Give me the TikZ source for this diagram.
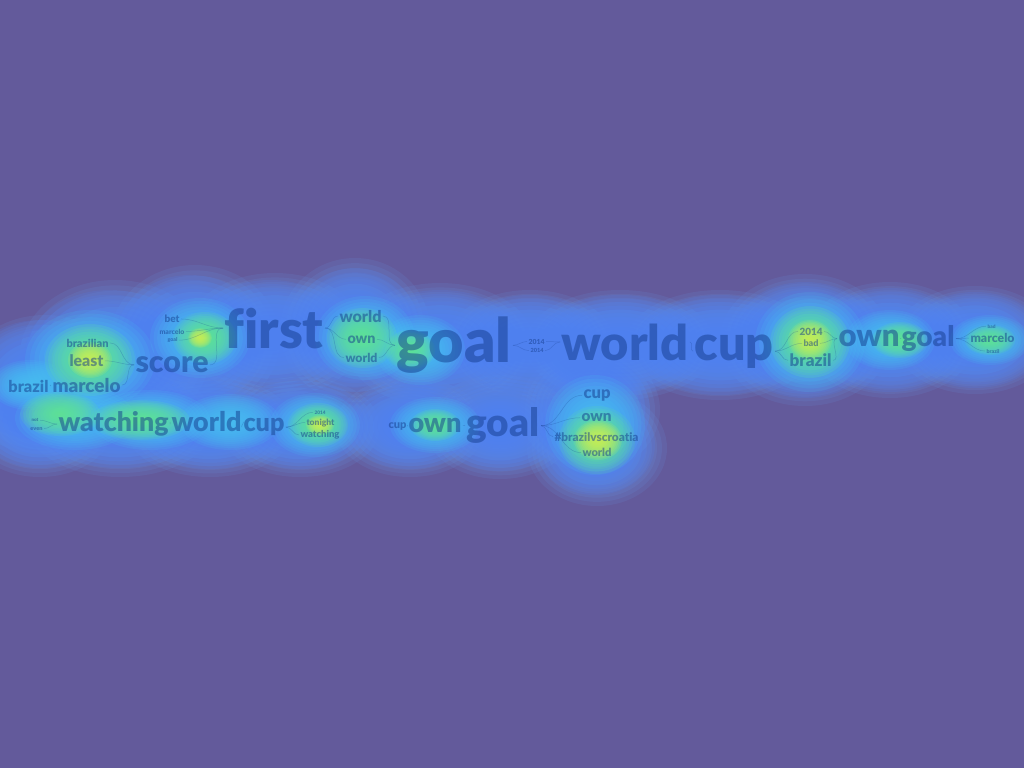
\documentclass[tikz,border=0pt]{standalone}
\usepackage{fontspec}
\setmainfont{Lato}[BoldFont={Lato Black}, Ligatures=NoCommon]
\definecolor{bgpurple}{RGB}{99,90,155}
\definecolor{hrim}{RGB}{100,172,255}
\definecolor{hblue}{RGB}{78,128,245}
\definecolor{hcyan}{RGB}{70,200,240}
\definecolor{hgreen}{RGB}{100,235,140}
\definecolor{hyellow}{RGB}{215,242,80}
\definecolor{txt}{RGB}{20,60,140}
\tikzset{
  wordbox/.style={anchor=base west, inner sep=0pt, outer sep=1.5pt, text=txt, text opacity=0.5, font=\bfseries},
  branch/.style={draw=txt, draw opacity=0.25, line width=0.5pt},
}
\newcommand{\blob}[6]{\foreach \k in {1,...,14}{\pgfmathsetmacro\fr{(15-\k)/14}\fill[#1, fill opacity=#6] (#2,#3) ellipse [x radius={\fr*#4pt}, y radius={\fr*#5pt}];}}
\newcommand{\wordat}[5]{\node[wordbox] (#1) at (#2,#3) {\resizebox{#4pt}{!}{#5}};}
\begin{document}
\begin{tikzpicture}[x=1pt,y=-1pt]
\useasboundingbox (0,0) rectangle (1024,768);
\fill[bgpurple] (0,0) rectangle (1024,768);
% rim layer
\foreach \cx/\cy/\rx/\ry in {45/385/85/70,115/355/95/75,195/340/85/75,275/335/90/62,355/330/75/72,440/345/95/62,530/345/85/55,620/345/95/55,720/345/95/55,805/340/85/66,890/340/85/58,975/340/80/54,40/422/75/55,120/422/95/55,210/427/85/50,300/427/80/50,410/427/75/50,500/427/75/52,590/410/70/62,597/448/70/58}
  {\blob{hrim}{\cx}{\cy}{\rx}{\ry}{0.1}}
% blue layer
\foreach \cx/\cy/\rx/\ry in {40/380/75/60,110/355/85/65,190/340/75/65,270/335/80/55,355/330/65/62,440/345/85/55,530/345/75/50,620/345/85/50,720/345/85/50,805/340/75/58,890/340/75/52,975/340/70/48,40/420/65/48,120/420/85/48,210/425/75/44,300/425/70/44,410/425/65/44,500/425/65/46,590/410/60/55,595/445/60/50}
  {\blob{hblue}{\cx}{\cy}{\rx}{\ry}{0.16}}
% cyan layer
\foreach \cx/\cy/\rx/\ry in {90/360/65/50,30/385/40/25,75/418/60/32,150/420/60/30,230/422/50/28,315/425/45/32,200/338/50/40,365/338/50/42,420/350/45/35,810/342/55/50,890/340/45/30,990/340/40/25,435/425/45/28,595/425/50/50}
  {\blob{hcyan}{\cx}{\cy}{\rx}{\ry}{0.13}}
% green layer
\foreach \cx/\cy/\rx/\ry in {90/360/45/36,60/414/40/22,140/420/50/20,205/338/32/26,362/338/35/30,410/350/25/20,810/342/40/36,318/425/30/22,597/440/38/34,435/425/25/16,900/340/28/18,990/340/25/15}
  {\blob{hgreen}{\cx}{\cy}{\rx}{\ry}{0.13}}
% yellow layer
\foreach \cx/\cy/\rx/\ry in {90/360/22/18,810/340/22/20,598/440/24/20,320/425/14/10,200/338/12/10}
  {\blob{hyellow}{\cx}{\cy}{\rx}{\ry}{0.13}}
% tree A
\wordat{a1}{65}{347}{42}{brazilian}
\wordat{a2}{68}{366.7}{34}{least}
\wordat{a3}{7}{392}{40}{brazil}
\wordat{a4}{51}{392}{68}{marcelo}
\wordat{a5}{134}{372.7}{73}{score}
\wordat{a6}{163}{322.7}{15}{bet}
\wordat{a7}{158}{334}{25}{marcelo}
\wordat{a8}{166}{341.7}{10}{goal}
\wordat{a9}{223}{348}{99}{first}
\wordat{a10}{338}{322}{42}{world}
\wordat{a11}{346}{343}{28}{own}
\wordat{a12}{344}{362}{32}{world}
\wordat{a13}{395}{362.7}{115}{goal}
\wordat{a14}{527}{344}{16}{2014}
\wordat{a15}{529}{352.7}{13}{2014}
\wordat{a16}{560}{360}{127}{world}
\wordat{a17}{693}{360}{79}{cup}
\wordat{a18}{798}{335}{23}{2014}
\wordat{a19}{802}{346.7}{15}{bad}
\wordat{a20}{788}{366.7}{42}{brazil}
\wordat{a21}{837}{346.7}{61}{own}
\wordat{a22}{900}{346.7}{53}{goal}
\wordat{a23}{986}{328}{8}{bad}
\wordat{a24}{969}{342.7}{44}{marcelo}
\wordat{a25}{985}{353}{13}{brazil}
% tree B
\wordat{b1}{30}{421.7}{7}{not}
\wordat{b2}{29}{430}{12}{even}
\wordat{b3}{57}{431.7}{110}{watching}
\wordat{b4}{170}{431.7}{70}{world}
\wordat{b5}{242}{431.7}{41}{cup}
\wordat{b6}{313}{414}{11}{2014}
\wordat{b7}{305}{425}{28}{tonight}
\wordat{b8}{299}{437.7}{39}{watching}
% tree C
\wordat{c1}{387}{428.3}{18}{cup}
\wordat{c2}{407}{432.3}{53}{own}
\wordat{c3}{465}{436.7}{73}{goal}
\wordat{c4}{582}{398.3}{27}{cup}
\wordat{c5}{580}{421.7}{30}{own}
\wordat{c6}{553}{441}{84}{\#brazilvscroatia}
\wordat{c7}{581}{456.7}{29}{world}
% branches
\foreach \s/\t in {a1/a5,a2/a5,a4/a5,a3/a4,a6/a9,a7/a9,a8/a9,a5/a9,a9/a10,a9/a11,a9/a12,a10/a13,a11/a13,a12/a13,a13/a14,a13/a15,a14/a16,a15/a16,a16/a17,a17/a18,a17/a19,a17/a20,a18/a21,a19/a21,a20/a21,a21/a22,a22/a23,a22/a24,a22/a25,b1/b3,b2/b3,b3/b4,b4/b5,b5/b6,b5/b7,b5/b8,c1/c2,c2/c3,c3/c4,c3/c5,c3/c6,c3/c7}
  \draw[branch] (\s.east) to[out=0,in=180] (\t.west);
\end{tikzpicture}
\end{document}
